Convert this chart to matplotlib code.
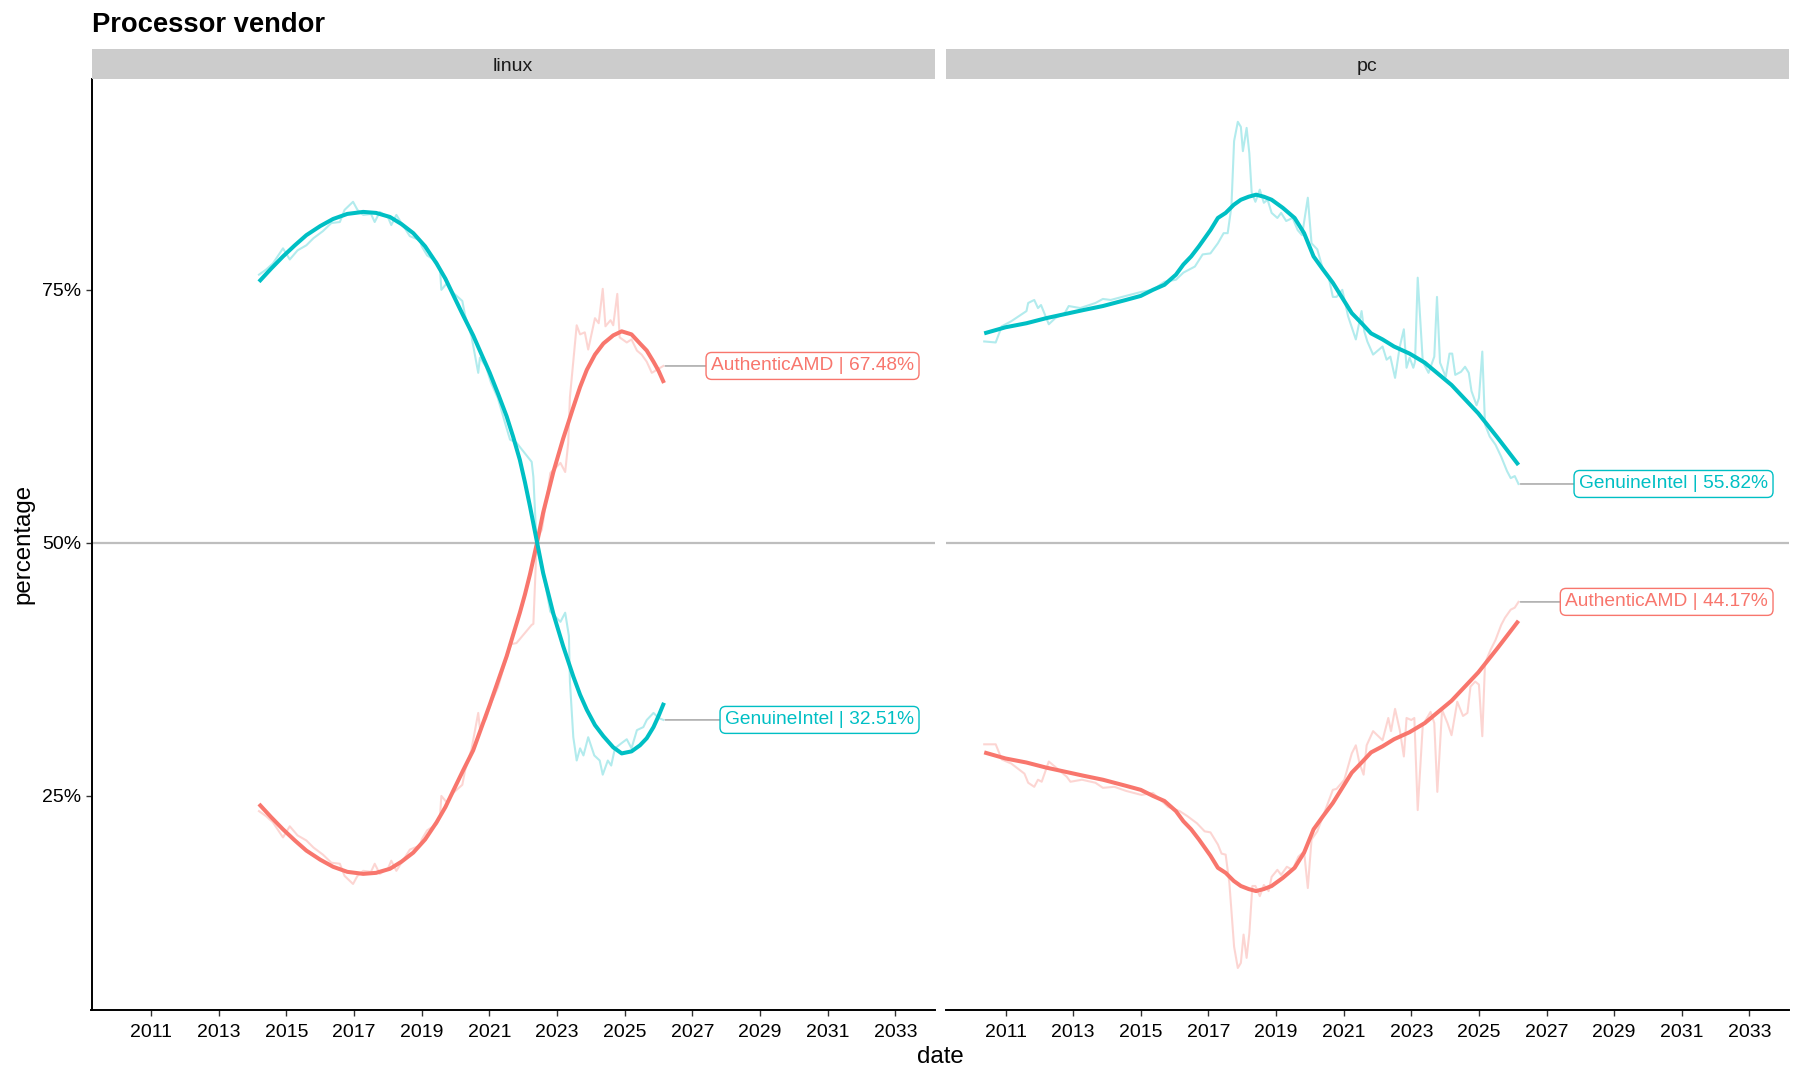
import matplotlib
matplotlib.use("Agg")
import matplotlib.pyplot as plt
from matplotlib.ticker import FixedLocator, FixedFormatter

plt.rcParams['font.family'] = ['Liberation Sans', 'DejaVu Sans']

# ---------------- data ----------------
facets = ["linux", "pc"]
vendors = ["AuthenticAMD", "GenuineIntel"]

# linux — raw monthly share
linux_intel_dates = [2014.19, 2014.40, 2014.60, 2014.90, 2015.10, 2015.33, 2015.59, 2015.80, 2016.08, 2016.33,
                     2016.58, 2016.72, 2016.97, 2017.10, 2017.27, 2017.50, 2017.61, 2017.76, 2018.00, 2018.10,
                     2018.25, 2018.40, 2018.65, 2018.95, 2019.00, 2019.16, 2019.44, 2019.54, 2019.58, 2019.73,
                     2019.93, 2020.20, 2020.28, 2020.47, 2020.67, 2020.72, 2020.90, 2021.05, 2021.25, 2021.45,
                     2021.61, 2021.80, 2022.25, 2022.30, 2022.40, 2022.55, 2022.74, 2022.80, 2023.10, 2023.24,
                     2023.35, 2023.38, 2023.48, 2023.58, 2023.68, 2023.78, 2023.92, 2024.10, 2024.26, 2024.35,
                     2024.50, 2024.60, 2024.71, 2024.90, 2025.06, 2025.20, 2025.36, 2025.55, 2025.65, 2025.85,
                     2026.00, 2026.14]
linux_intel_values = [76.5, 77.0, 77.6, 79.1, 78.0, 78.9, 79.4, 80.1, 80.8, 81.6,
                      81.7, 82.9, 83.7, 82.9, 82.4, 82.5, 81.7, 82.7, 82.2, 81.4,
                      82.4, 81.6, 80.3, 79.9, 79.3, 78.4, 77.8, 77.1, 75.0, 75.6,
                      74.7, 73.9, 72.5, 70.4, 66.8, 68.3, 67.4, 65.8, 64.3, 62.0,
                      60.2, 59.9, 58.0, 56.5, 49.5, 47.7, 44.3, 43.2, 42.2, 43.1,
                      40.8, 36.3, 30.8, 28.5, 29.7, 29.0, 30.8, 29.0, 28.5, 27.1,
                      28.5, 28.0, 29.7, 30.2, 30.6, 29.7, 31.5, 31.8, 32.5, 33.2,
                      32.7, 32.51]
linux_amd_dates = [2014.19, 2014.40, 2014.60, 2014.90, 2015.10, 2015.33, 2015.59, 2015.80, 2016.08, 2016.33,
                   2016.58, 2016.72, 2016.97, 2017.10, 2017.27, 2017.50, 2017.61, 2017.76, 2018.00, 2018.10,
                   2018.25, 2018.40, 2018.65, 2018.95, 2019.00, 2019.16, 2019.44, 2019.54, 2019.58, 2019.73,
                   2019.93, 2020.20, 2020.28, 2020.47, 2020.67, 2020.72, 2020.90, 2021.05, 2021.25, 2021.45,
                   2021.64, 2021.80, 2022.25, 2022.30, 2022.40, 2022.55, 2022.74, 2022.80, 2023.10, 2023.24,
                   2023.33, 2023.38, 2023.58, 2023.68, 2023.82, 2023.92, 2024.12, 2024.23, 2024.35, 2024.43,
                   2024.58, 2024.66, 2024.78, 2024.85, 2025.06, 2025.20, 2025.36, 2025.50, 2025.65, 2025.80,
                   2025.95, 2026.14]
linux_amd_values = [23.5, 23.0, 22.4, 20.9, 22.0, 21.1, 20.6, 19.9, 19.2, 18.4,
                    18.3, 17.1, 16.3, 17.1, 17.6, 17.5, 18.3, 17.3, 17.8, 18.6,
                    17.6, 18.4, 19.7, 20.1, 20.7, 21.6, 22.2, 22.9, 25.0, 24.4,
                    25.3, 26.1, 27.5, 29.6, 33.2, 31.7, 32.6, 34.2, 35.7, 38.0,
                    40.0, 40.1, 41.9, 42.0, 50.3, 51.3, 55.4, 56.9, 57.9, 57.0,
                    59.9, 64.4, 71.5, 70.6, 70.8, 69.1, 72.2, 71.7, 75.1, 71.4,
                    72.0, 71.5, 74.6, 70.3, 69.8, 70.1, 69.0, 68.6, 67.9, 66.8,
                    67.1, 67.48]

# linux — smoothed trend
linux_smooth_dates = [2014.19, 2014.55, 2014.90, 2015.25, 2015.59, 2016.00, 2016.38, 2016.80, 2017.27, 2017.65,
                      2018.06, 2018.40, 2018.75, 2019.10, 2019.44, 2019.70, 2019.93, 2020.22, 2020.52, 2020.77,
                      2021.01, 2021.26, 2021.51, 2021.70, 2021.90, 2022.05, 2022.20, 2022.40, 2022.59, 2022.89,
                      2023.18, 2023.48, 2023.68, 2023.88, 2024.12, 2024.37, 2024.66, 2024.91, 2025.20, 2025.45,
                      2025.65, 2025.85, 2026.00, 2026.16]
linux_smooth_intel = [75.8, 77.1, 78.3, 79.4, 80.4, 81.3, 82.0, 82.5, 82.7, 82.6,
                      82.2, 81.5, 80.6, 79.3, 77.6, 76.1, 74.5, 72.5, 70.5, 68.6,
                      66.8, 64.7, 62.5, 60.5, 58.2, 56.0, 53.6, 50.2, 47.0, 43.0,
                      39.8, 36.8, 35.0, 33.5, 32.0, 30.9, 29.8, 29.2, 29.4, 30.0,
                      30.7, 31.8, 32.9, 34.2]
linux_smooth_amd = [24.2, 22.9, 21.7, 20.6, 19.6, 18.7, 18.0, 17.5, 17.3, 17.4,
                    17.8, 18.5, 19.4, 20.7, 22.4, 23.9, 25.5, 27.5, 29.5, 31.8,
                    34.0, 36.4, 38.8, 40.9, 43.1, 44.9, 46.9, 49.9, 53.0, 57.0,
                    60.3, 63.4, 65.4, 67.1, 68.6, 69.7, 70.5, 70.9, 70.6, 69.7,
                    69.0, 67.9, 67.0, 65.8]

# pc — raw monthly share
pc_intel_dates = [2010.37, 2010.71, 2010.89, 2011.17, 2011.62, 2011.67, 2011.85, 2011.96, 2012.05, 2012.28,
                  2012.47, 2012.75, 2012.87, 2013.21, 2013.66, 2013.88, 2014.11, 2014.56, 2015.02, 2015.36,
                  2015.70, 2016.04, 2016.26, 2016.60, 2016.83, 2017.06, 2017.28, 2017.45, 2017.57, 2017.68,
                  2017.76, 2017.87, 2017.96, 2018.02, 2018.13, 2018.21, 2018.28, 2018.39, 2018.52, 2018.64,
                  2018.75, 2018.87, 2019.04, 2019.15, 2019.30, 2019.49, 2019.64, 2019.77, 2019.94, 2020.05,
                  2020.22, 2020.39, 2020.56, 2020.68, 2020.79, 2020.96, 2021.13, 2021.36, 2021.53, 2021.61,
                  2021.70, 2021.87, 2022.15, 2022.27, 2022.38, 2022.52, 2022.66, 2022.78, 2022.86, 2022.95,
                  2023.06, 2023.11, 2023.19, 2023.34, 2023.51, 2023.68, 2023.76, 2023.85, 2024.02, 2024.13,
                  2024.21, 2024.30, 2024.47, 2024.59, 2024.70, 2024.78, 2024.93, 2025.00, 2025.10, 2025.18,
                  2025.32, 2025.49, 2025.66, 2025.83, 2025.94, 2026.06, 2026.17]
pc_intel_values = [69.9, 69.8, 71.4, 71.9, 72.9, 73.7, 74.0, 73.2, 73.5, 71.6,
                   72.2, 72.7, 73.4, 73.2, 73.7, 74.1, 74.0, 74.4, 74.8, 75.0,
                   75.8, 76.0, 76.7, 77.3, 78.5, 78.6, 79.6, 80.6, 80.6, 83.2,
                   89.7, 91.6, 91.1, 88.7, 91.0, 88.5, 84.6, 83.7, 84.9, 83.6,
                   83.9, 82.6, 82.1, 82.6, 81.8, 82.1, 80.9, 80.4, 84.1, 79.6,
                   79.0, 77.0, 76.2, 74.3, 74.3, 75.0, 72.4, 70.1, 72.9, 70.9,
                   69.9, 68.6, 69.4, 68.1, 68.4, 66.3, 69.4, 71.1, 67.3, 68.3,
                   67.3, 67.9, 76.2, 67.9, 66.8, 68.4, 74.3, 67.8, 66.4, 68.7,
                   68.7, 66.6, 66.9, 67.4, 66.8, 65.0, 63.6, 64.3, 68.9, 61.7,
                   60.5, 59.7, 58.5, 57.1, 56.4, 56.6, 55.82]
pc_amd_dates = [2010.37, 2010.71, 2010.89, 2011.17, 2011.56, 2011.67, 2011.85, 2011.96, 2012.07, 2012.28,
                2012.53, 2012.81, 2012.92, 2013.26, 2013.66, 2013.88, 2014.22, 2014.56, 2015.02, 2015.36,
                2015.81, 2016.15, 2016.38, 2016.66, 2016.89, 2017.06, 2017.28, 2017.39, 2017.51, 2017.62,
                2017.76, 2017.87, 2017.96, 2018.04, 2018.13, 2018.21, 2018.30, 2018.39, 2018.52, 2018.64,
                2018.78, 2018.87, 2019.04, 2019.15, 2019.32, 2019.49, 2019.66, 2019.83, 2019.94, 2020.05,
                2020.22, 2020.39, 2020.68, 2020.79, 2021.02, 2021.24, 2021.36, 2021.47, 2021.59, 2021.68,
                2021.87, 2022.15, 2022.32, 2022.40, 2022.52, 2022.66, 2022.78, 2022.86, 2023.00, 2023.09,
                2023.19, 2023.34, 2023.57, 2023.68, 2023.77, 2023.91, 2024.07, 2024.19, 2024.36, 2024.53,
                2024.66, 2024.75, 2024.89, 2025.00, 2025.10, 2025.18, 2025.34, 2025.49, 2025.66, 2025.77,
                2025.94, 2026.06, 2026.17]
pc_amd_values = [30.1, 30.1, 28.6, 28.2, 27.2, 26.3, 25.9, 26.6, 26.4, 28.4,
                 27.7, 26.9, 26.4, 26.6, 26.3, 25.8, 25.9, 25.5, 25.1, 25.3,
                 23.9, 23.5, 23.0, 22.3, 21.5, 21.4, 20.2, 19.3, 19.2, 16.4,
                 10.1, 8.0, 8.5, 11.3, 9.0, 11.4, 16.1, 16.1, 15.1, 16.2,
                 15.6, 17.0, 17.7, 17.2, 18.0, 17.7, 19.0, 19.5, 15.9, 20.7,
                 21.5, 23.0, 25.6, 25.7, 26.6, 29.2, 30.0, 28.2, 27.1, 30.0,
                 31.4, 30.5, 32.7, 31.4, 33.6, 31.5, 28.9, 32.7, 32.5, 32.7,
                 23.6, 32.0, 33.3, 32.2, 25.4, 33.5, 32.2, 31.0, 34.3, 32.9,
                 33.2, 35.8, 36.3, 36.0, 30.9, 38.1, 39.4, 40.4, 41.9, 42.6,
                 43.4, 43.6, 44.17]

# pc — smoothed trend
pc_smooth_dates = [2010.37, 2011.00, 2011.62, 2012.20, 2012.75, 2013.30, 2013.88, 2014.56, 2015.00, 2015.36,
                   2015.70, 2016.04, 2016.26, 2016.49, 2016.72, 2017.06, 2017.28, 2017.51, 2017.75, 2017.96,
                   2018.19, 2018.41, 2018.64, 2018.87, 2019.20, 2019.55, 2019.83, 2020.11, 2020.39, 2020.68,
                   2021.24, 2021.53, 2021.81, 2022.15, 2022.49, 2022.95, 2023.40, 2024.19, 2024.98, 2025.55,
                   2026.17]
pc_smooth_intel = [70.7, 71.3, 71.7, 72.2, 72.6, 73.0, 73.4, 74.0, 74.4, 75.0,
                   75.5, 76.5, 77.5, 78.3, 79.3, 80.9, 82.1, 82.6, 83.4, 83.9,
                   84.2, 84.4, 84.2, 83.9, 83.1, 82.1, 80.6, 78.3, 77.0, 75.7,
                   72.7, 71.7, 70.7, 70.1, 69.4, 68.7, 67.8, 65.6, 62.8, 60.4,
                   57.7]
pc_smooth_amd = [29.3, 28.7, 28.3, 27.8, 27.4, 27.0, 26.6, 26.0, 25.6, 25.0,
                 24.5, 23.5, 22.5, 21.7, 20.7, 19.1, 17.9, 17.4, 16.6, 16.1,
                 15.8, 15.6, 15.8, 16.1, 16.9, 17.9, 19.4, 21.7, 23.0, 24.3,
                 27.3, 28.3, 29.3, 29.9, 30.6, 31.3, 32.2, 34.4, 37.2, 39.6,
                 42.3]

x_ticks = list(range(2011, 2034, 2))
x_tick_labels = [str(y) for y in x_ticks]
y_ticks = [25, 50, 75]
y_tick_labels = ["25%", "50%", "75%"]

# ---------------- style ----------------
colors = {"AuthenticAMD": "#F8766D", "GenuineIntel": "#00BFC4"}
W, H = 1800, 1080
XLIM = (2009.24, 2034.17)
YLIM = (3.85, 95.83)
LABEL_X = 2033.55

panel_data = {
    "linux": {
        "raw": {"AuthenticAMD": (linux_amd_dates, linux_amd_values),
                "GenuineIntel": (linux_intel_dates, linux_intel_values)},
        "smooth": {"AuthenticAMD": (linux_smooth_dates, linux_smooth_amd),
                   "GenuineIntel": (linux_smooth_dates, linux_smooth_intel)},
    },
    "pc": {
        "raw": {"AuthenticAMD": (pc_amd_dates, pc_amd_values),
                "GenuineIntel": (pc_intel_dates, pc_intel_values)},
        "smooth": {"AuthenticAMD": (pc_smooth_dates, pc_smooth_amd),
                   "GenuineIntel": (pc_smooth_dates, pc_smooth_intel)},
    },
}


def rect(x0, y0, x1, y1):
    return [x0 / W, 1 - y1 / H, (x1 - x0) / W, (y1 - y0) / H]


fig = plt.figure(figsize=(18, 10.8), dpi=100)
fig.patch.set_facecolor("white")

panel_px = {"linux": (91.5, 935), "pc": (946, 1789)}
TOP, BOT = 79, 1010

for i, facet in enumerate(facets):
    x0, x1 = panel_px[facet]
    ax = fig.add_axes(rect(x0, TOP, x1, BOT))
    sax = fig.add_axes(rect(x0, 49, x1, TOP))
    sax.set_facecolor("#CCCCCC")
    for s in sax.spines.values():
        s.set_visible(False)
    sax.set_xticks([]); sax.set_yticks([])
    sax.text(0.5, 0.42, facet, ha="center", va="center", fontsize=14, color="#1a1a1a",
             transform=sax.transAxes)

    ax.set_xlim(*XLIM)
    ax.set_ylim(*YLIM)
    ax.axhline(50, color="#BEBEBE", lw=1.6, zorder=1)

    d = panel_data[facet]
    for v in vendors:
        xs, ys = d["raw"][v]
        ax.plot(xs, ys, color=colors[v], alpha=0.3, lw=1.5, zorder=2, solid_joinstyle="round")
    for v in vendors:
        xs, ys = d["smooth"][v]
        ax.plot(xs, ys, color=colors[v], lw=2.9, zorder=3, solid_capstyle="butt",
                solid_joinstyle="round")

    for v in vendors:
        xs, ys = d["raw"][v]
        last_x, last_y = xs[-1], ys[-1]
        ax.annotate(f"{v} | {last_y:.2f}%", xy=(last_x + 0.06, last_y), xytext=(LABEL_X, last_y),
                    ha="right", va="center", fontsize=13.8, color=colors[v], zorder=5,
                    bbox=dict(boxstyle="round,pad=0.26,rounding_size=0.3", fc="white",
                              ec=colors[v], lw=1.0),
                    arrowprops=dict(arrowstyle="-", color="#B3B3B3", lw=1.3,
                                    shrinkA=0, shrinkB=0))

    for s in ["top", "right"]:
        ax.spines[s].set_visible(False)
    ax.spines["bottom"].set_linewidth(1.4)
    ax.spines["left"].set_linewidth(1.4)
    ax.xaxis.set_major_locator(FixedLocator(x_ticks))
    ax.xaxis.set_major_formatter(FixedFormatter(x_tick_labels))
    ax.tick_params(axis="x", length=4.5, width=1.0, color="#333333", labelsize=14,
                   labelcolor="black", pad=5.5)
    if i == 0:
        ax.yaxis.set_major_locator(FixedLocator(y_ticks))
        ax.yaxis.set_major_formatter(FixedFormatter(y_tick_labels))
        ax.tick_params(axis="y", length=4.5, width=1.0, color="#333333", labelsize=14,
                       labelcolor="black", pad=3)
    else:
        ax.spines["left"].set_visible(False)
        ax.set_yticks([])

fig.text(92 / W, 1 - 24.5 / H, "Processor vendor", fontsize=19.7, fontweight="bold",
         ha="left", va="center", color="black")
fig.text(940 / W, 1 - 1057 / H, "date", fontsize=17.3, ha="center", va="center")
fig.text(23 / W, 1 - 544 / H, "percentage", fontsize=17.3, ha="center", va="center",
         rotation=90)

fig.savefig("out.png", dpi=100, facecolor="white")
